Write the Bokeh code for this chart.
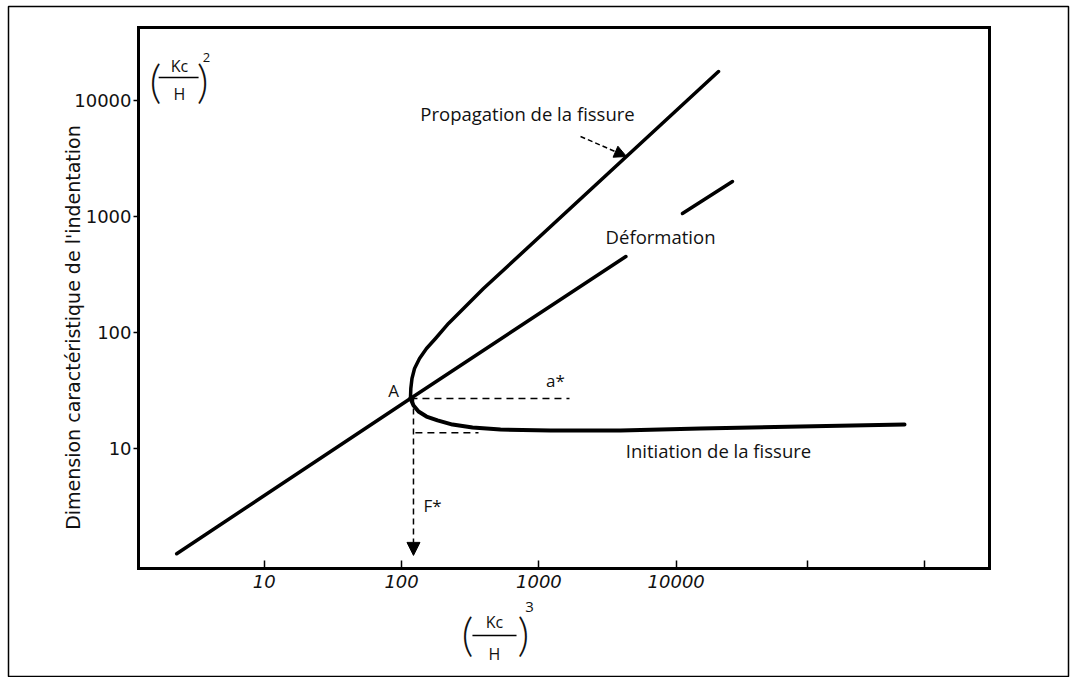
import math
from bokeh.plotting import figure
from bokeh.models import Range1d, FixedTicker, Label, Arrow, NormalHead, LogAxis
from bokeh.embed import file_html
from bokeh.resources import INLINE

# ---------------- data ----------------
x_ticks = [10, 100, 1000, 10000, 90400, 643000]
x_tick_labels = ["10", "100", "1000", "10000", "", ""]
y_ticks = [10, 100, 1000, 10000]
y_tick_labels = ["10", "100", "1000", "10000"]

# extent of the drawn axes box
x_box = (1.213, 1.914e6)
y_box = (0.933, 42650)

# Déformation : straight line through A (interrupted by its label)
deformation_x = [2.3, 116, 4300]
deformation_y = [1.25, 27.2, 454]
deformation_upper_x = [11100, 25700]
deformation_upper_y = [1066, 2010]

# Propagation de la fissure
propagation_x = [116, 116.7, 119.0, 124.2, 135.0, 151.8, 176.6, 219.5, 282.4, 394.9, 20330]
propagation_y = [27.2, 33.1, 40.4, 49.3, 60.1, 73.2, 89.3, 120.3, 161.9, 240.7, 17810]

# Initiation de la fissure
initiation_x = [116, 122.1, 132.8, 151.8, 182.6, 234.8, 328.5, 525.2, 1215, 3930, 15030, 80400, 460200]
initiation_y = [27.2, 23.65, 21.0, 19.0, 17.6, 16.2, 15.3, 14.7, 14.4, 14.4, 15.0, 15.6, 16.2]

# construction lines from point A
a_star_x = [116, 1670]
a_star_y = [27.2, 27.2]
init_dash_x = [126, 363]
init_dash_y = [13.8, 13.8]
f_star_x = 122
f_star_y = [27.2, 1.21]

# ---------------- figure ----------------
p = figure(width=1074, height=677, x_axis_type="log", y_axis_type="log",
           x_range=Range1d(0.1370, 7.20e6), y_range=Range1d(0.1074, 64640),
           output_backend="svg", toolbar_location=None,
           min_border_left=8, min_border_right=6,
           min_border_top=6, min_border_bottom=0,
           background_fill_color="white", border_fill_color="white")

# outer frame of the page
p.outline_line_color = "black"
p.outline_line_width = 1.5
p.xgrid.visible = False
p.ygrid.visible = False

xa = p.xaxis[0]
xa.fixed_location = y_box[0]
xa.bounds = x_box
xa.ticker = FixedTicker(ticks=x_ticks, minor_ticks=[])
xa.major_label_overrides = {t: l for t, l in zip(x_ticks, x_tick_labels)}
xa.axis_line_width = 3
xa.axis_line_cap = "square"
xa.major_tick_in = 8
xa.major_tick_out = 0
xa.major_tick_line_width = 1.5
xa.minor_tick_line_color = None
xa.major_label_standoff = 7
xa.major_label_text_font = "DejaVu Sans"
xa.major_label_text_font_style = "italic"
xa.major_label_text_font_size = "18px"
xa.major_label_text_color = "#111111"

ya = p.yaxis[0]
ya.fixed_location = x_box[0]
ya.bounds = y_box
ya.ticker = FixedTicker(ticks=y_ticks, minor_ticks=[])
ya.major_label_overrides = {t: l for t, l in zip(y_ticks, y_tick_labels)}
ya.axis_line_width = 3
ya.axis_line_cap = "square"
ya.major_tick_in = 0
ya.major_tick_out = 5
ya.major_tick_line_width = 1.5
ya.minor_tick_line_color = None
ya.major_label_standoff = 2
ya.major_label_text_font = "DejaVu Sans"
ya.major_label_text_font_size = "18px"
ya.major_label_text_color = "#111111"
ya.major_label_orientation = "horizontal"

# top and right sides of the box
for side, loc, bnds in (("above", y_box[1], x_box), ("right", x_box[1], y_box)):
    ax = LogAxis(fixed_location=loc, bounds=bnds, ticker=FixedTicker(ticks=[], minor_ticks=[]),
                 axis_line_width=3, axis_line_cap="square",
                 major_tick_line_color=None, minor_tick_line_color=None,
                 major_label_text_color=None)
    p.add_layout(ax, side)

# ---------------- curves ----------------
common = dict(line_color="black", line_cap="round", line_join="round")
p.line(deformation_x, deformation_y, line_width=3.5, **common)
p.line(deformation_upper_x, deformation_upper_y, line_width=3.5, **common)
p.line(propagation_x, propagation_y, line_width=3.5, **common)
p.line(initiation_x, initiation_y, line_width=4, **common)

p.line(a_star_x, a_star_y, line_width=1.5, line_color="black", line_dash="7 5")
p.line(init_dash_x, init_dash_y, line_width=1.5, line_color="black", line_dash="7 5")
p.add_layout(Arrow(x_start=f_star_x, y_start=f_star_y[0], x_end=f_star_x, y_end=f_star_y[1],
                   line_width=1.5, line_dash="6 4", line_color="black",
                   end=NormalHead(size=13, fill_color="black", line_color="black")))
# pointer to the propagation curve
p.add_layout(Arrow(x_start=2010, y_start=4910, x_end=4345, y_end=3300,
                   line_width=1.5, line_dash="5 3", line_color="black",
                   end=NormalHead(size=12, fill_color="black", line_color="black")))

# ---------------- texts ----------------
PAREN_FONT = "'DejaVu Sans ExtraLight', 'Lato Light', 'Open Sans Light', Lato"

def lab(text, x, y, size="18px", font="Open Sans", angle=0, style="normal", color="#111111"):
    p.add_layout(Label(text=text, x=x, y=y, text_font=font, text_font_size=size,
                       text_align="center", text_baseline="middle", angle=angle,
                       text_color=color, text_font_style=style))

def bar(x0, x1, y):
    p.add_layout(Arrow(x_start=x0, y_start=y, x_end=x1, y_end=y,
                       line_width=1.5, line_color="black", start=None, end=None))

lab("Propagation de la fissure", 826, 7745, size="18.5px")
lab("Déformation", 7690, 675, size="18.5px")
lab("Initiation de la fissure", 20330, 9.69, size="18.5px")
lab("A", 87.3, 31.8, size="17px")
lab("a*", 1321, 38.8, size="17px")
lab("F*", 168, 3.25, size="17px")

lab("Dimension caractéristique de l'indentation", 0.401, 111, size="19px",
    font="DejaVu Sans", angle=math.pi / 2)

# (Kc/H)^2 on the y axis
lab("(", 1.61, 14900, size="46px", font=PAREN_FONT)
lab(")", 3.55, 14900, size="46px", font=PAREN_FONT)
lab("Kc", 2.41, 20050, size="16px")
lab("H", 2.41, 11510, size="16px")
lab("2", 3.79, 23500, size="13px")
bar(1.70, 3.32, 15810)

# (Kc/H)^3 on the x axis
lab("(", 302, 0.257, size="46px", font=PAREN_FONT)
lab(")", 772, 0.257, size="46px", font=PAREN_FONT)
lab("Kc", 475, 0.320, size="16px")
lab("H", 475, 0.1695, size="16px")
lab("3", 855, 0.431, size="15px")
bar(328, 687, 0.247)

open("out.html", "w").write(file_html(p, INLINE))
